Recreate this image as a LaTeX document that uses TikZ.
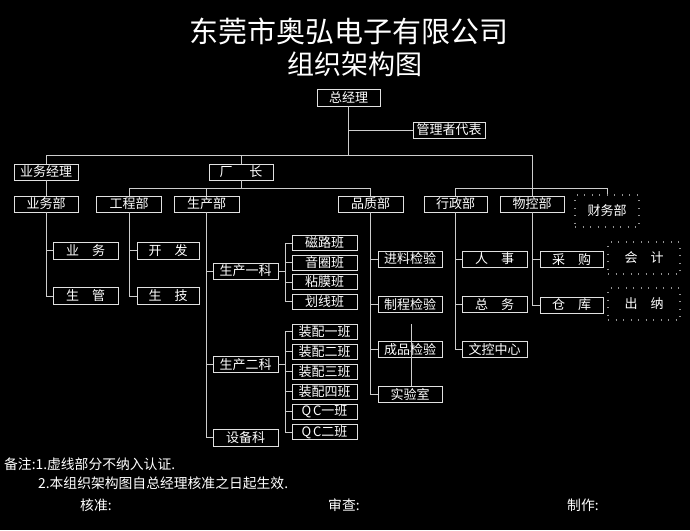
\documentclass[tikz,border=0pt]{standalone}
\usepackage{fontspec}
\setmainfont{Noto Sans CJK SC}
\definecolor{linec}{RGB}{205,205,205}
\definecolor{boxc}{RGB}{225,225,225}
\begin{document}
\begin{tikzpicture}[x=1pt,y=-1pt,
  ln/.style={draw=linec,line width=0.8pt},
  bx/.style={draw=boxc,line width=0.9pt,inner sep=0pt,text=white,
    minimum width=65pt,minimum height=16pt,font=\fontsize{13}{13}\selectfont},
  tm/.style={bx,minimum height=15pt},
  dbx/.style={draw=gray!85,line width=1.1pt,dash pattern=on 1pt off 6.5pt,inner sep=0pt,
    text=white,minimum width=64pt,minimum height=32pt,font=\fontsize{13}{13}\selectfont},
  lbl/.style={text=white,inner sep=0pt,anchor=west,font=\fontsize{13.8}{13.8}\selectfont}]
\fill[black] (0,0) rectangle (690,530);
\useasboundingbox (0,0) rectangle (690,530);

% titles
\node[text=white,inner sep=0pt,font=\fontsize{29}{29}\selectfont] (t1) at (348.5,31) {东莞市奥弘电子有限公司};
\node[text=white,inner sep=0pt,font=\fontsize{27}{27}\selectfont] (t2) at (354.5,64) {组织架构图};

% top level
\node[bx,minimum width=63pt,minimum height=17pt] (zjl) at (348.5,97.5) {总经理};
\node[bx,minimum width=72pt] (glz) at (449,130) {管理者代表};
\node[bx,minimum width=64pt] (ywjl) at (46,172) {业务经理};
\node[bx,minimum width=64pt] (cz) at (241,172) {厂\hspace{1.3em}长};

% departments
\node[bx,minimum width=64pt] (ywb) at (46,204) {业务部};
\node[bx] (gcb) at (129,204) {工程部};
\node[bx] (scb) at (206.5,204) {生产部};
\node[bx] (pzb) at (370.5,204) {品质部};
\node[bx,minimum width=63pt] (xzb) at (455.5,204) {行政部};
\node[bx,minimum width=64pt] (wkb) at (532,204) {物控部};
\node[dbx] (cwb) at (607,211) {财务部};

% business / engineering
\node[bx,minimum height=17pt] (yw) at (85.5,250.5) {业\hspace{1em}务};
\node[bx,minimum height=17pt] (sg) at (85.5,296) {生\hspace{1em}管};
\node[bx,minimum width=62pt,minimum height=17pt] (kf) at (168,250.5) {开\hspace{1em}发};
\node[bx,minimum width=62pt,minimum height=17pt] (sj) at (168,296) {生\hspace{1em}技};

% production
\node[bx] (sc1) at (245.5,271) {生产一科};
\node[bx] (sc2) at (245.5,364.5) {生产二科};
\node[bx,minimum height=17pt] (sbk) at (245.5,437.5) {设备科};

\node[tm] (clb) at (324.5,243) {磁路班};
\node[tm] (yqb) at (324.5,262.5) {音圈班};
\node[tm] (nmb) at (324.5,282) {粘膜班};
\node[tm] (hxb) at (324.5,301.5) {划线班};
\node[tm] (zp1) at (324.5,331.5) {装配一班};
\node[tm] (zp2) at (324.5,351.5) {装配二班};
\node[tm] (zp3) at (324.5,371.5) {装配三班};
\node[tm] (zp4) at (324.5,391.5) {装配四班};
\node[tm] (qc1) at (324.5,411.5) {Q\hspace{2pt}C一班};
\node[tm] (qc2) at (324.5,432) {Q\hspace{2pt}C二班};

% quality
\node[bx,minimum width=64pt] (jl) at (410,259) {进料检验};
\node[bx,minimum width=64pt] (zc) at (410,304.5) {制程检验};
\node[bx,minimum width=64pt] (cp) at (410,349.5) {成品检验};
\node[bx,minimum width=64pt] (sys) at (410,394) {实验室};

% admin
\node[bx] (rs) at (494.5,259) {人\hspace{1em}事};
\node[bx] (zw) at (494.5,304.5) {总\hspace{1em}务};
\node[bx] (wk) at (494.5,349.5) {文控中心};

% material control
\node[bx,minimum width=63pt] (cg) at (571.5,259.5) {采\hspace{1em}购};
\node[bx,minimum width=63pt] (ck) at (571.5,305) {仓\hspace{1em}库};

% finance (dotted)
\node[dbx,minimum width=72pt] (kj) at (644,258) {会\hspace{1em}计};
\node[dbx,minimum width=72pt] (cn) at (644,304) {出\hspace{1em}纳};

% connectors
\coordinate (busA) at (0,155);
\coordinate (busB) at (0,188);
\coordinate (s1) at (285,0);
\coordinate (xx) at (411,324);

\draw[ln] (zjl.south) -- (zjl.south |- busA);
\draw[ln] (zjl.south |- glz.west) -- (glz.west);
\draw[ln] (ywjl.north |- busA) -- (wkb.north |- busA);
\draw[ln] (ywjl.north |- busA) -- (ywjl.north);
\draw[ln] (cz.north |- busA) -- (cz.north);
\draw[ln] (wkb.north |- busA) -- (wkb.north);
\draw[ln] (ywjl.south) -- (ywb.north);

\draw[ln] (cz.south) -- (cz.south |- busB);
\draw[ln] (gcb.north |- busB) -- (pzb.north |- busB);
\draw[ln] (gcb.north |- busB) -- (gcb.north);
\draw[ln] (scb.north |- busB) -- (scb.north);
\draw[ln] (pzb.north |- busB) -- (pzb.north);
\draw[ln] (xzb.north |- busB) -- (cwb.north |- busB);
\draw[ln] (xzb.north |- busB) -- (xzb.north);
\draw[ln] (cwb.north |- busB) -- (cwb.north);

\draw[ln] (ywb.south) -- (ywb.south |- sg.west) -- (sg.west);
\draw[ln] (ywb.south |- yw.west) -- (yw.west);
\draw[ln] (gcb.south) -- (gcb.south |- sj.west) -- (sj.west);
\draw[ln] (gcb.south |- kf.west) -- (kf.west);

\draw[ln] (scb.south) -- (scb.south |- sbk.west) -- (sbk.west);
\draw[ln] (scb.south |- sc1.west) -- (sc1.west);
\draw[ln] (scb.south |- sc2.west) -- (sc2.west);

\draw[ln] (sc1.east) -- (sc1.east -| s1);
\draw[ln] (clb.west -| s1) -- (hxb.west -| s1);
\foreach \n in {clb,yqb,nmb,hxb} \draw[ln] (\n.west -| s1) -- (\n.west);
\draw[ln] (sc2.east) -- (sc2.east -| s1);
\draw[ln] (zp1.west -| s1) -- (qc2.west -| s1);
\foreach \n in {zp1,zp2,zp3,zp4,qc1,qc2} \draw[ln] (\n.west -| s1) -- (\n.west);

\draw[ln] (pzb.south) -- (pzb.south |- sys.west) -- (sys.west);
\foreach \n in {jl,zc,cp} \draw[ln] (pzb.south |- \n.west) -- (\n.west);
\draw[ln] (xx) -- (xx |- sys.north);

\draw[ln] (xzb.south) -- (xzb.south |- wk.west) -- (wk.west);
\foreach \n in {rs,zw} \draw[ln] (xzb.south |- \n.west) -- (\n.west);
\draw[ln] (wkb.south) -- (wkb.south |- ck.west) -- (ck.west);
\draw[ln] (wkb.south |- cg.west) -- (cg.west);

% notes
\node[lbl] (n1) at (4,464) {备注:1.虚线部分不纳入认证.};
\node[lbl] (n2) at (38,483) {2.本组织架构图自总经理核准之日起生效.};
\node[lbl] (n3) at (80,505) {核准:};
\node[lbl] (n4) at (328,505) {审查:};
\node[lbl] (n5) at (567,505) {制作:};
\end{tikzpicture}
\end{document}
